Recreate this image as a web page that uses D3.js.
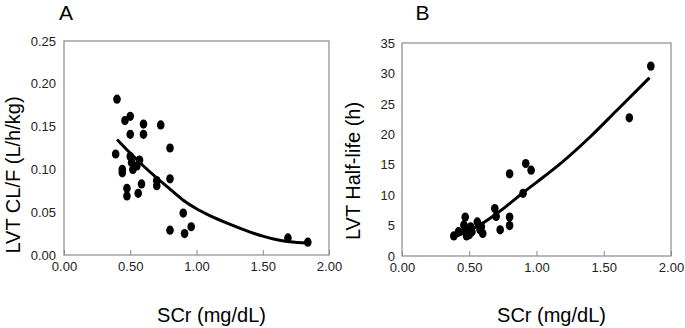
<!DOCTYPE html>
<html lang="en">
<head>
  <meta charset="UTF-8">
  <title>LVT vs SCr</title>
  <script src="https://cdn.jsdelivr.net/npm/d3@7"></script>
  <style>
    body { margin: 0; background: #fff; }
    svg { font-family: "Liberation Sans", Arial, sans-serif; }
    .tick text { fill: #222; font-size: 13px; }
  </style>
</head>
<body>
<script>
// panel A: apparent clearance
const aScr = [0.40, 0.39, 0.46, 0.50, 0.50, 0.60, 0.60, 0.73, 0.80, 0.50, 0.51, 0.57, 0.44, 0.44, 0.52, 0.55,
              0.475, 0.475, 0.585, 0.56, 0.70, 0.70, 0.80, 0.90, 0.80, 0.91, 0.96, 1.69, 1.84];
const aClf = [0.182, 0.118, 0.157, 0.162, 0.141, 0.153, 0.141, 0.152, 0.125, 0.115, 0.108, 0.111, 0.100, 0.096, 0.100, 0.104,
              0.078, 0.069, 0.083, 0.072, 0.087, 0.081, 0.089, 0.049, 0.029, 0.025, 0.033, 0.020, 0.015];
const aFitScr = [0.40, 0.50, 0.60, 0.70, 0.80, 0.90, 1.00, 1.10, 1.25, 1.40, 1.50, 1.60, 1.70, 1.84];
const aFitClf = [0.135, 0.119, 0.104, 0.090, 0.077, 0.064, 0.054, 0.046, 0.036, 0.027, 0.022, 0.018, 0.0155, 0.014];
const aTicks = [0, 0.05, 0.10, 0.15, 0.20, 0.25];

// panel B: half-life
const bScr = [0.385, 0.42, 0.47, 0.46, 0.47, 0.48, 0.51, 0.52, 0.50, 0.56, 0.58, 0.59, 0.60,
              0.69, 0.70, 0.73, 0.80, 0.80, 0.80, 0.90, 0.92, 0.96, 1.69, 1.85];
const bHalf = [3.3, 4.0, 6.4, 5.1, 4.2, 3.3, 4.8, 4.0, 3.5, 5.6, 4.3, 4.8, 3.7,
               7.8, 6.5, 4.3, 6.4, 5.0, 13.5, 10.3, 15.2, 14.1, 22.7, 31.2];
const bFitScr = [0.40, 0.50, 0.60, 0.70, 0.80, 0.90, 1.00, 1.20, 1.40, 1.60, 1.84];
const bFitHalf = [3.2, 4.2, 5.4, 6.9, 8.6, 10.4, 12.1, 15.6, 19.6, 24.0, 29.3];
const bTicks = [0, 5, 10, 15, 20, 25, 30, 35];

const xTicks = [0, 0.5, 1.0, 1.5, 2.0];

const svg = d3.select("body").append("svg")
  .attr("width", 685)
  .attr("height", 328);

function panel(opt) {
  const x = d3.scaleLinear().domain([0, 2]).range([opt.left, opt.right]);
  const y = d3.scaleLinear().domain([0, opt.yMax]).range([opt.bottom, opt.top]);
  const g = svg.append("g");

  g.append("rect")
    .attr("x", opt.left).attr("y", opt.top)
    .attr("width", opt.right - opt.left).attr("height", opt.bottom - opt.top)
    .attr("fill", "none").attr("stroke", "#8a8a8a").attr("stroke-width", 1.2);

  const xAxis = g.append("g")
    .attr("transform", "translate(0," + opt.bottom + ")")
    .call(d3.axisBottom(x).tickValues(xTicks).tickFormat(d3.format(".2f"))
      .tickSizeInner(-5).tickSizeOuter(0).tickPadding(7));
  xAxis.select(".domain").remove();
  xAxis.selectAll("line").attr("stroke", "#8a8a8a");

  const yAxis = g.append("g")
    .attr("transform", "translate(" + opt.left + ",0)")
    .call(d3.axisLeft(y).tickValues(opt.ticks).tickFormat(opt.fmt)
      .tickSize(0).tickPadding(opt.yPad));
  yAxis.select(".domain").remove();

  const line = d3.line().x(d => x(d[0])).y(d => y(d[1])).curve(d3.curveMonotoneX);
  g.append("path")
    .datum(d3.zip(opt.fitX, opt.fitY))
    .attr("d", line)
    .attr("fill", "none").attr("stroke", "#000").attr("stroke-width", 3);

  g.selectAll("ellipse")
    .data(d3.zip(opt.px, opt.py))
    .enter().append("ellipse")
    .attr("cx", d => x(d[0]))
    .attr("cy", d => y(d[1]))
    .attr("rx", 3.8).attr("ry", 4.6)
    .attr("fill", "#000");

  g.append("text")
    .attr("x", opt.letterX).attr("y", 20)
    .attr("text-anchor", "middle")
    .attr("font-size", 21)
    .text(opt.letter);

  g.append("text")
    .attr("x", (opt.left + opt.right) / 2 + 15).attr("y", 322)
    .attr("text-anchor", "middle")
    .attr("font-size", 20)
    .text("SCr (mg/dL)");

  g.append("text")
    .attr("transform", "translate(" + opt.yTitleX + "," + opt.yTitleY + ") rotate(-90)")
    .attr("text-anchor", "middle")
    .attr("font-size", 20)
    .text(opt.yTitle);
}

panel({
  left: 64, right: 329, top: 41, bottom: 255, yMax: 0.25,
  ticks: aTicks, fmt: d3.format(".2f"), yPad: 8,
  px: aScr, py: aClf, fitX: aFitScr, fitY: aFitClf,
  letter: "A", letterX: 66,
  yTitle: "LVT CL/F (L/h/kg)", yTitleX: 19.5, yTitleY: 175
});

panel({
  left: 402, right: 671, top: 43, bottom: 256, yMax: 35,
  ticks: bTicks, fmt: d3.format("d"), yPad: 7,
  px: bScr, py: bHalf, fitX: bFitScr, fitY: bFitHalf,
  letter: "B", letterX: 422.5,
  yTitle: "LVT Half-life (h)", yTitleX: 360, yTitleY: 171
});
</script>
</body>
</html>
